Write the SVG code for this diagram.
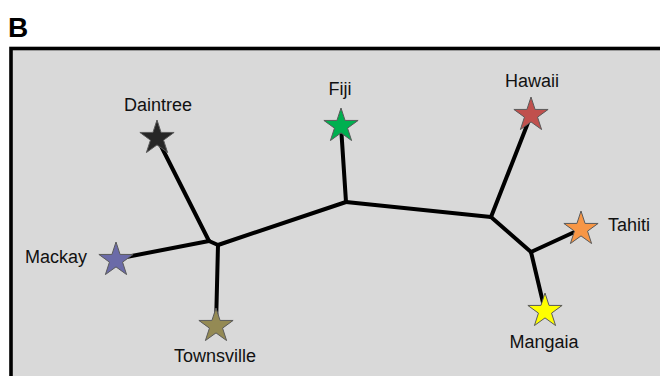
<svg xmlns="http://www.w3.org/2000/svg" xmlns:xlink="http://www.w3.org/1999/xlink" width="660" height="376" viewBox="0 0 660 376">
  <style>
    .lbl { font-family: "Liberation Sans", Arial, sans-serif; font-size: 18px; fill: #111111; text-anchor: middle; }
    .edge { stroke: #000; stroke-width: 4; fill: none; stroke-linecap: round; stroke-linejoin: round; }
    .star { stroke: #5a5a5a; stroke-width: 1; }
  </style>
  <defs>
    <path id="star" d="M0,-18 L4.06,-5.58 L17.12,-5.56 L6.56,2.13 L10.58,14.56 L0,6.9 L-10.58,14.56 L-6.56,2.13 L-17.12,-5.56 L-4.06,-5.58 Z"/>
  </defs>
  <rect x="0" y="0" width="660" height="376" fill="#ffffff"/>
  <text x="8" y="37" font-family="'Liberation Sans', Arial, sans-serif" font-weight="bold" font-size="28" fill="#000">B</text>
  <rect id="frame" x="11" y="48.5" width="680" height="360" fill="#d9d9d9" stroke="#000" stroke-width="3.6"/>
  <g id="connectors">
    <path class="edge" d="M157,138 L209,241"/>
    <path class="edge" d="M116,259 L209,241"/>
    <path class="edge" d="M209,241 L218,245"/>
    <path class="edge" d="M218,245 L216,326"/>
    <path class="edge" d="M218,245 L346,202"/>
    <path class="edge" d="M346,202 L341,126"/>
    <path class="edge" d="M346,202 L491,217"/>
    <path class="edge" d="M491,217 L531,115"/>
    <path class="edge" d="M491,217 L531,252"/>
    <path class="edge" d="M531,252 L581,229"/>
    <path class="edge" d="M531,252 L545,311"/>
  </g>
  <g id="daintree">
    <use xlink:href="#star" class="star" x="157" y="138" fill="#262626"/>
    <text class="lbl" x="158" y="111">Daintree</text>
  </g>
  <g id="fiji">
    <use xlink:href="#star" class="star" x="341" y="126" fill="#00b050"/>
    <text class="lbl" x="340" y="95">Fiji</text>
  </g>
  <g id="hawaii">
    <use xlink:href="#star" class="star" x="531" y="115" fill="#c0504d"/>
    <text class="lbl" x="532" y="87">Hawaii</text>
  </g>
  <g id="mackay">
    <use xlink:href="#star" class="star" x="116" y="260" fill="#6b6ba8"/>
    <text class="lbl" x="56" y="263">Mackay</text>
  </g>
  <g id="townsville">
    <use xlink:href="#star" class="star" x="216" y="326" fill="#948a54"/>
    <text class="lbl" x="215" y="362">Townsville</text>
  </g>
  <g id="tahiti">
    <use xlink:href="#star" class="star" x="581" y="229" fill="#f79646"/>
    <text class="lbl" x="629" y="231">Tahiti</text>
  </g>
  <g id="mangaia">
    <use xlink:href="#star" class="star" x="545" y="311" fill="#ffff00"/>
    <text class="lbl" x="544" y="348">Mangaia</text>
  </g>
</svg>
